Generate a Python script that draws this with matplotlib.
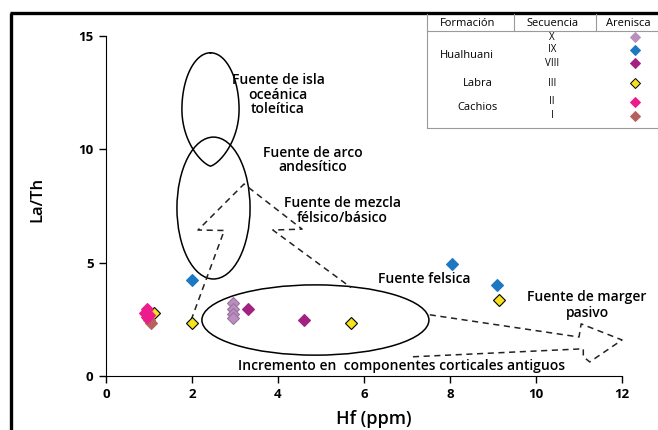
import numpy as np
import matplotlib
matplotlib.use('Agg')
import matplotlib.pyplot as plt
from matplotlib.patches import Ellipse

plt.rc('font', family=['Open Sans', 'DejaVu Sans'])

# Hf (ppm) vs La/Th per sequence
hf_X = [2.95, 2.95, 2.95, 2.95]
lath_X = [3.2, 2.95, 2.75, 2.55]
hf_IX = [2.0, 8.05, 9.1]
lath_IX = [4.25, 4.95, 4.0]
hf_VIII = [3.3, 4.6]
lath_VIII = [2.95, 2.47]
hf_III = [1.12, 2.0, 5.7, 9.15]
lath_III = [2.8, 2.35, 2.35, 3.35]
hf_II = [0.95, 0.9, 1.0, 0.95]
lath_II = [2.95, 2.8, 2.7, 2.6]
hf_I = [1.0, 1.05, 0.98]
lath_I = [2.45, 2.35, 2.55]

# legend table
formaciones = ['Hualhuani', 'Labra', 'Cachios']
secuencias = ['X', 'IX', 'VIII', 'III', 'II', 'I']
colores = ['#b98fbd', '#1d78c2', '#a2227f', '#f7e21c', '#ee1b8c', '#b5625d']

xticks = [0, 2, 4, 6, 8, 10, 12]
yticks = [0, 5, 10, 15]

W, H = 658, 430
fig = plt.figure(figsize=(W/100, H/100), dpi=100)
ax = fig.add_axes([106/W, 1-376/H, 516/W, 340/H])

series = [(hf_III, lath_III, colores[3], 'black'),
          (hf_I, lath_I, colores[5], colores[5]),
          (hf_II, lath_II, colores[4], colores[4]),
          (hf_X, lath_X, colores[0], '#9c72a2'),
          (hf_IX, lath_IX, colores[1], colores[1]),
          (hf_VIII, lath_VIII, colores[2], colores[2])]
for xs, ys, c, ec in series:
    ax.plot(xs, ys, 'D', ms=6.5, mfc=c, mec=ec, mew=0.8, zorder=5)

# source fields
t = np.linspace(0, 2*np.pi, 300)
shape = np.where(np.cos(t) > 0, 1.0, np.abs(np.sin(t))**0.45)
ax.plot(2.43 + 0.665*np.sin(t)*shape, 11.76 + 2.5*np.cos(t), color='black', lw=1.1)
ax.add_patch(Ellipse((2.5, 7.41), 1.7, 6.26, fill=False, ec='black', lw=1.1))
ax.add_patch(Ellipse((4.87, 2.47), 5.28, 3.1, fill=False, ec='black', lw=1.1))

dash = (0, (4, 3))
mezcla_x = [1.98, 2.75, 2.14, 3.21, 4.56, 3.88, 5.7]
mezcla_y = [2.47, 6.42, 6.44, 8.47, 6.48, 6.44, 3.9]
ax.plot(mezcla_x, mezcla_y, color='#222222', lw=1.1, ls=dash)
flecha_x = [7.53, 11.0, 11.05, 12.0, 11.25, 11.1, 11.1, 7.05]
flecha_y = [2.7, 1.72, 2.3, 1.59, 0.62, 0.85, 1.2, 0.84]
ax.plot(flecha_x, flecha_y, color='#222222', lw=1.1, ls=dash, clip_on=False)

tk = dict(fontsize=10, fontweight='semibold', ha='center', va='center', linespacing=1.05)
ax.text(4.0, 12.4, 'Fuente de isla\noceánica\ntoleítica', **tk)
ax.text(4.8, 9.53, 'Fuente de arco\nandesítico', **tk)
ax.text(5.5, 7.3, 'Fuente de mezcla\nfélsico/básico', **tk)
ax.text(7.4, 4.28, 'Fuente felsica', **tk)
ax.text(9.8, 3.5, 'Fuente de marger', fontsize=10, fontweight='semibold', ha='left', va='center', clip_on=False)
ax.text(11.2, 2.8, 'pasivo', **tk)
ax.text(6.88, 0.42, 'Incremento en  componentes corticales antiguos', fontsize=10,
        fontweight='semibold', ha='center', va='center')

ax.set_xlim(0, 12)
ax.set_ylim(0, 15)
ax.set_xticks(xticks)
ax.set_yticks(yticks)
ax.spines['right'].set_visible(False)
ax.spines['top'].set_visible(False)
ax.tick_params(direction='out', length=5, width=1, labelsize=9.5, pad=4)
for lab in ax.get_xticklabels() + ax.get_yticklabels():
    lab.set_fontweight('bold')
ax.set_xlabel('Hf (ppm)', fontsize=13, fontweight='semibold')
ax.set_ylabel('La/Th', fontsize=12, fontweight='semibold')
ax.xaxis.set_label_coords(0.519, -0.1)
ax.yaxis.set_label_coords(-0.118, 0.518)

# overlay in pixel coords: frame + legend table
ov = fig.add_axes([0, 0, 1, 1], facecolor='none')
ov.set_xlim(0, W)
ov.set_ylim(H, 0)
ov.axis('off')
ov.plot([11, 11], [13, H], color='black', lw=2.4, solid_capstyle='butt')
ov.plot([10, W], [13, 13], color='black', lw=2.4, solid_capstyle='butt')
g = '#9a9a9a'
ov.plot([427, 427, W], [14, 128, 128], color=g, lw=0.8)
ov.plot([427, W], [31, 31], color=g, lw=0.8)
ov.plot([514, 514], [14, 31], color=g, lw=0.8)
ov.plot([596, 596], [14, 31], color=g, lw=0.8)
hd = dict(fontsize=8, ha='center', va='center', fontweight='medium')
ov.text(468, 23, 'Formación', **hd)
ov.text(553, 23, 'Secuencia', **hd)
ov.text(628, 23, 'Arenisca', **hd)
fila_y = [37, 50, 63, 83, 102, 116]
for s, yy, c in zip(secuencias, fila_y, colores):
    ov.text(552, yy, s, fontsize=7, ha='center', va='center', fontweight='medium')
    ov.plot(635, yy, 'D', ms=5.5, mfc=c, mec='black' if s == 'III' else c, mew=0.7)
for f, yy, xx in zip(formaciones, [55, 83, 107], [467, 478, 478]):
    ov.text(xx, yy, f, fontsize=8, ha='center', va='center', fontweight='medium')

fig.savefig('out.png', dpi=100)
